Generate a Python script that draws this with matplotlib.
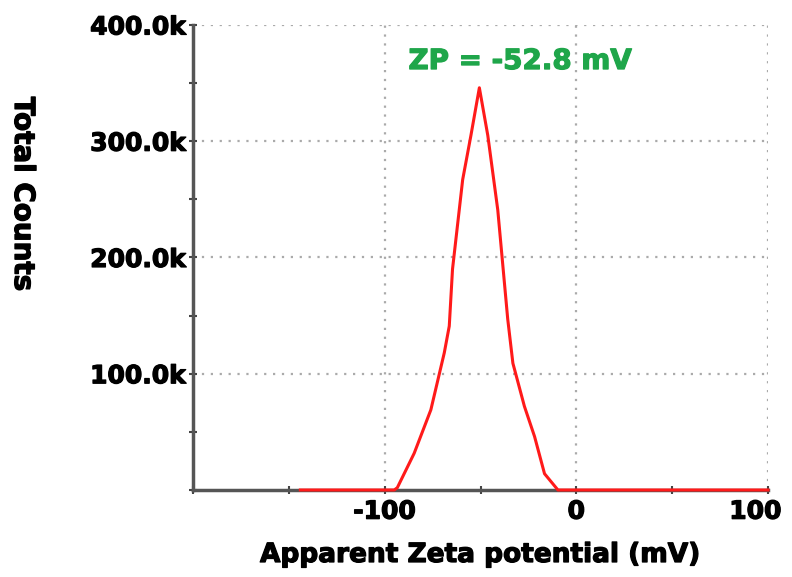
import matplotlib
matplotlib.use('Agg')
from matplotlib import pyplot as plt
from matplotlib import patheffects as pe
from matplotlib import transforms
from matplotlib.ticker import FuncFormatter, MultipleLocator

# zeta potential distribution
zeta = [-144, -95, -93.4, -84.6, -75.9, -68.9, -66.3, -64.6, -59.3, -55.0, -50.6,
        -46.2, -41.0, -35.8, -33.1, -27.1, -21.8, -16.6, -9.6, 100]
counts = [0, 0, 2000, 31600, 69000, 118000, 141000, 190000, 267000, 305000, 346000,
          305000, 241000, 147000, 109000, 72000, 46000, 14000, 0, 0]

zp_label = 'ZP = -52.8 mV'
x_ticks = [-100, 0, 100]
y_ticks = [100000, 200000, 300000, 400000]

plt.rcParams['font.family'] = ['DejaVu Sans']
plt.rcParams['axes.unicode_minus'] = False
heavy = lambda c: [pe.withStroke(linewidth=0.9, foreground=c)]

fig = plt.figure(figsize=(7.92, 5.77), dpi=100)
ax = fig.add_axes([0.2437, 0.1508, 0.726, 0.8059])

ax.set_xlim(-200, 100)
ax.set_ylim(0, 400000)

ax.plot(zeta, counts, color='#ff1a1a', lw=2.2, zorder=5, clip_on=False)

ax.set_xticks(x_ticks)
ax.set_yticks(y_ticks)
ax.xaxis.set_minor_locator(MultipleLocator(50))
ax.yaxis.set_minor_locator(MultipleLocator(50000))
ax.yaxis.set_major_formatter(FuncFormatter(lambda v, p: '%.1fk' % (v / 1000)))

for s in ['top', 'right']:
  ax.spines[s].set_visible(False)
for s in ['left', 'bottom']:
  ax.spines[s].set_color('#555555')
  ax.spines[s].set_linewidth(2.5)

ax.tick_params(axis='both', which='both', direction='inout', length=6, width=1.5,
               color='#444444')
ax.tick_params(axis='x', labelsize=18, pad=4)
ax.tick_params(axis='y', labelsize=18, pad=2)
for lab in ax.get_xticklabels() + ax.get_yticklabels():
  lab.set_fontweight('bold')
  lab.set_path_effects(heavy('black'))

# last x label sits a bit left so it stays inside the picture
last = ax.get_xticklabels()[-1]
last.set_transform(last.get_transform() + transforms.ScaledTranslation(-9 / 72, 0, fig.dpi_scale_trans))

ax.grid(True, which='major', color='#aaaaaa', linestyle=(0, (1, 3)), lw=1.6)

ax.text(-29.3, 369000, zp_label, color='#1fa64a', fontsize=20, fontweight='bold',
        ha='center', va='center', path_effects=heavy('#1fa64a'))

fig.text(0.606, 1 - 555 / 577, 'Apparent Zeta potential (mV)', fontsize=19,
         fontweight='bold', ha='center', va='center', path_effects=heavy('black'))
fig.text(0.029, 1 - 194 / 577, 'Total Counts', rotation=270, fontsize=20,
         fontweight='bold', ha='center', va='center', path_effects=heavy('black'))

fig.savefig('out.png', dpi=100)
